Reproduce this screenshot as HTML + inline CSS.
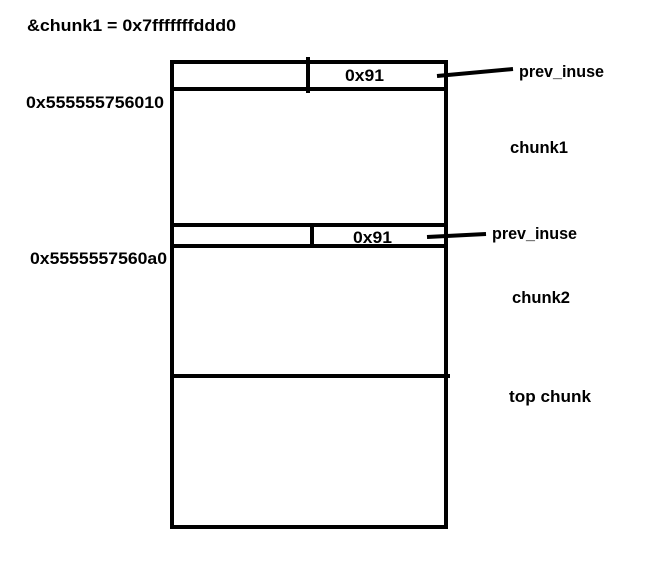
<!DOCTYPE html>
<html><head><meta charset="utf-8"><style>
body{margin:0;background:#fff;width:670px;height:576px;overflow:hidden}
svg text{font-family:"Liberation Sans",sans-serif;font-weight:bold;font-size:17px;fill:#000}
</style></head><body>
<svg width="670" height="576">
<text x="27" y="31" textLength="209" lengthAdjust="spacingAndGlyphs">&amp;chunk1 = 0x7fffffffddd0</text>
<rect x="172" y="62" width="274" height="465" fill="none" stroke="#000" stroke-width="4"/>
<line x1="172" y1="89" x2="446" y2="89" stroke="#000" stroke-width="4"/>
<line x1="308" y1="57" x2="308" y2="93" stroke="#000" stroke-width="4"/>
<text x="345" y="81" textLength="39" lengthAdjust="spacingAndGlyphs">0x91</text>
<line x1="437" y1="76" x2="513" y2="69" stroke="#000" stroke-width="4"/>
<text x="519" y="77" textLength="85" lengthAdjust="spacingAndGlyphs">prev_inuse</text>
<text x="26" y="108" textLength="138" lengthAdjust="spacingAndGlyphs">0x555555756010</text>
<text x="510" y="153" textLength="58" lengthAdjust="spacingAndGlyphs">chunk1</text>
<line x1="172" y1="225" x2="446" y2="225" stroke="#000" stroke-width="4"/>
<line x1="172" y1="246" x2="446" y2="246" stroke="#000" stroke-width="4"/>
<line x1="312" y1="225" x2="312" y2="246" stroke="#000" stroke-width="4"/>
<text x="353" y="243" textLength="39" lengthAdjust="spacingAndGlyphs">0x91</text>
<line x1="427" y1="237" x2="486" y2="234" stroke="#000" stroke-width="4"/>
<text x="492" y="239" textLength="85" lengthAdjust="spacingAndGlyphs">prev_inuse</text>
<text x="30" y="264" textLength="137" lengthAdjust="spacingAndGlyphs">0x5555557560a0</text>
<text x="512" y="303" textLength="58" lengthAdjust="spacingAndGlyphs">chunk2</text>
<line x1="172" y1="376" x2="450" y2="376" stroke="#000" stroke-width="4"/>
<text x="509" y="402" textLength="82" lengthAdjust="spacingAndGlyphs">top chunk</text>
</svg>
</body></html>
